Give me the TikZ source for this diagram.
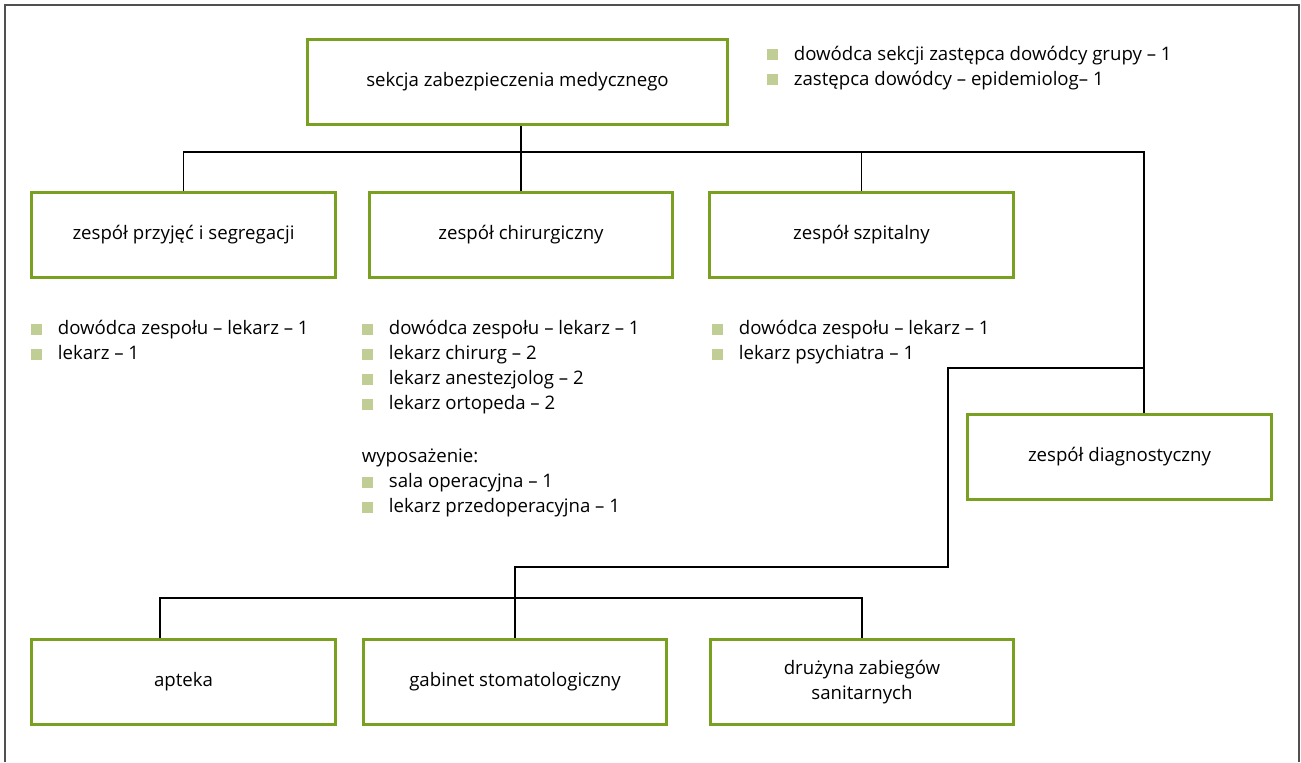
\documentclass[tikz,border=0pt]{standalone}
\usepackage{fontspec}
\setmainfont{Open Sans}
\usepackage{xcolor}
\usepackage{tikz}
\usetikzlibrary{positioning}

\definecolor{boxgreen}{RGB}{122,160,34}
\definecolor{bulletgreen}{RGB}{192,206,150}
\definecolor{framegray}{RGB}{80,80,80}
\newcommand{\blt}{\rule{0pt}{10pt}\textcolor{bulletgreen}{\rule{6.2pt}{6.2pt}}\hspace{9.2pt}}

\begin{document}
\begin{tikzpicture}[x=0.02cm, y=-0.02cm,
                    every node/.append style = {font=\fontsize{10.6}{14.23}\selectfont},
                    unit/.style = {draw=boxgreen, line width=1.7pt, minimum width=6.08cm,
                                   minimum height=1.7cm, inner sep=0pt, align=center},
                    roster/.style = {anchor=north west, align=left, inner sep=0pt},
                    link/.style = {draw, line width=0.7pt}]
                \useasboundingbox (0,0) rectangle (1301,762);
                \draw[framegray, line width=0.8pt] (5,762) -- (5,5) -- (1299,5) -- (1299,762);
                % units
                \node[unit, minimum width=8.4cm] (nsekcja) at (517.5,82) {sekcja zabezpieczenia medycznego};
                \node[unit] (nprzyj) at (183.5,235) {zespół przyjęć i segregacji};
                \node[unit] (nchir) at (521,235) {zespół chirurgiczny};
                \node[unit] (nszpit) at (861.5,235) {zespół szpitalny};
                \node[unit] (ndiagn) at (1119.5,457) {zespół diagnostyczny};
                \node[unit] (napt) at (183.5,682) {apteka};
                \node[unit] (nstom) at (515,682) {gabinet stomatologiczny};
                \node[unit] (ndruz) at (862,682) {drużyna zabiegów\\sanitarnych};
                % connectors
                \coordinate (nturn) at (1144,152);
                \coordinate (nbranch) at (1144,368);
                \coordinate (nstep) at (948,567);
                \coordinate (nbusl) at (160,598);
                \draw[link] (nsekcja.south -| nchir.north) -- (nchir.north);
                \draw[link] (nprzyj.north) |- (nturn) -- (nturn |- ndiagn.north);
                \draw[link] (nszpit.north) -- (nszpit.north |- nturn);
                \draw[link] (nbranch) -| (nstep) -| (nstom.north);
                \draw[link] (nbusl |- napt.north) -- (nbusl) -| (ndruz.north);
                % staff lists
                \node[roster] (lsekcja) at (766.5,42.4) {\blt dowódca sekcji zastępca dowódcy grupy – 1\\
                    \blt zastępca dowódcy – epidemiolog– 1};
                \node[roster] (lprzyj) at (30.5,316.9) {\blt dowódca zespołu – lekarz – 1\\ \blt lekarz – 1};
                \node[roster] (lchir) at (361.5,316.9) {\blt dowódca zespołu – lekarz – 1\\
                    \blt lekarz chirurg – 2\\ \blt lekarz anestezjolog – 2\\ \blt lekarz ortopeda – 2\\[16pt]
                    wyposażenie:\\ \blt sala operacyjna – 1\\ \blt lekarz przedoperacyjna – 1};
                \node[roster] (lszpit) at (711.5,316.9) {\blt dowódca zespołu – lekarz – 1\\ \blt lekarz psychiatra – 1};
                \end{tikzpicture}
\end{document}
